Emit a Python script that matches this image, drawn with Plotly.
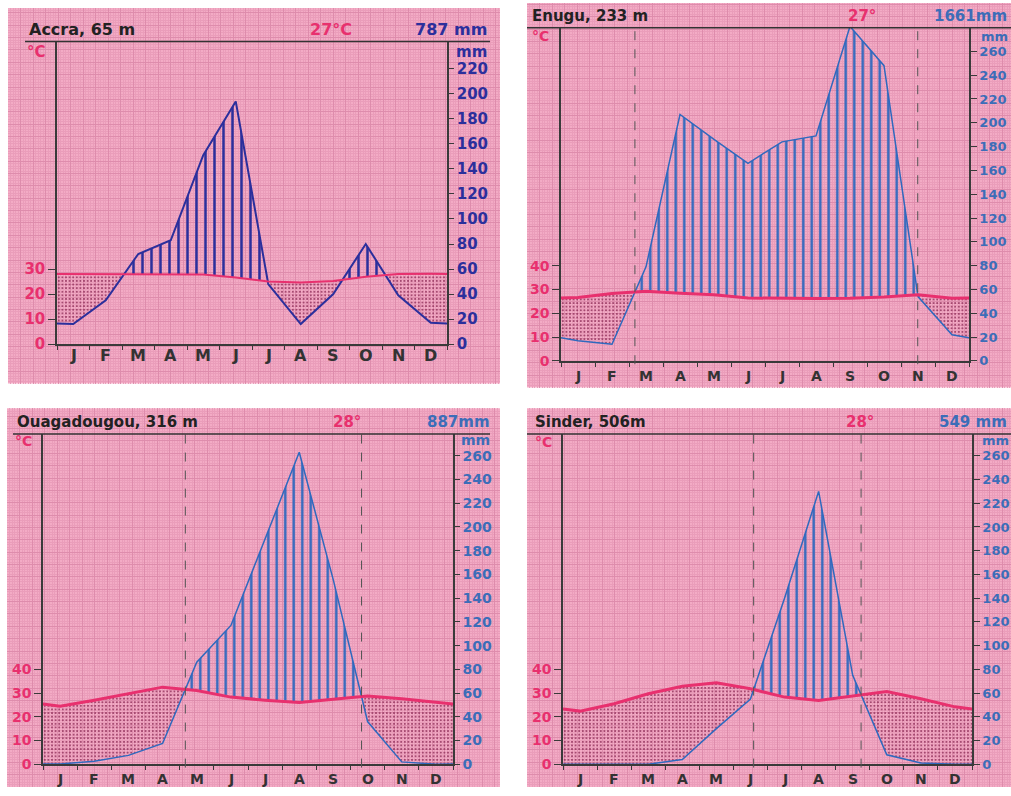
import plotly.graph_objects as go

W, H = 1011, 796

# ---------------- data ----------------
months = ["J", "F", "M", "A", "M", "J", "J", "A", "S", "O", "N", "D"]

accra_name = "Accra, 65 m"
accra_temp_label = "27°C"
accra_precip_label = "787 mm"
accra_temp = [28.0, 28.0, 28.1, 28.0, 27.8, 26.6, 25.0, 24.6, 25.2, 26.9, 28.0, 28.1]
accra_precip = [16, 35, 72, 83, 151, 194, 48, 16, 40, 80, 39, 17]

enugu_name = "Enugu, 233 m"
enugu_temp_label = "27°"
enugu_precip_label = "1661mm"
enugu_temp = [26.6, 28.3, 29.2, 28.4, 27.8, 26.4, 26.2, 26.2, 26.3, 26.8, 27.8, 26.3]
enugu_precip = [17, 14, 79, 207, 186, 166, 184, 189, 281, 248, 54, 22]

ouaga_name = "Ouagadougou, 316 m"
ouaga_temp_label = "28°"
ouaga_precip_label = "887mm"
ouaga_temp = [24.5, 27.0, 29.7, 32.5, 31.1, 28.3, 27.0, 26.0, 27.4, 28.8, 27.6, 26.3]
ouaga_precip = [0.3, 2.5, 7.5, 17.5, 86, 117, 190, 263, 155, 36, 2, 0]

sinder_name = "Sinder, 506m"
sinder_temp_label = "28°"
sinder_precip_label = "549 mm"
sinder_temp = [22.4, 25.5, 29.7, 32.9, 34.3, 31.8, 28.3, 26.9, 28.8, 30.7, 27.6, 24.2]
sinder_precip = [0, 0, 0, 4, 30, 55, 140, 230, 75, 8, 1, 0]

mm_ticks_accra = list(range(0, 221, 20))
mm_ticks_other = list(range(0, 261, 20))
c_ticks_accra = [0, 10, 20, 30]
c_ticks_other = [0, 10, 20, 30, 40]

# ---------------- styles / layout constants ----------------
PINK = "#F3ABC5"
GRID_MINOR = "#EA9DBA"
GRID_MAJOR = "#DE8CAC"
AX = "#3a3a3a"
MAGENTA = "#E8306E"
FONT = "DejaVu Sans"

panels = [
    dict(name=accra_name, tl=accra_temp_label, pl=accra_precip_label,
         temp=accra_temp, precip=accra_precip, mmt=mm_ticks_accra, ct=c_ticks_accra,
         box=(8, 8, 500, 388), left=57, right=447, top=42, zero=348, pxmm=1.265,
         title_x=27, title_y=30, tsize=16, tl_x=331, pl_x=489, pl_anchor="right",
         line_x=(25, 490), degc=(36, 53), mm=(471, 53), month_y=360, msize=16, ksize=15,
         rsize=15, rlen=5, mmsize=15,
         blue="#2B2F9C", tblue="#2B2F9C", hatch=9, twidth=2, pwidth=2, dashed=False),
    dict(name=enugu_name, tl=enugu_temp_label, pl=enugu_precip_label,
         temp=enugu_temp, precip=enugu_precip, mmt=mm_ticks_other, ct=c_ticks_other,
         box=(527, 3, 1011, 392), left=561, right=969, top=28, zero=365, pxmm=1.204,
         title_x=530, title_y=16, tsize=15, tl_x=862, pl_x=1009, pl_anchor="right",
         line_x=(527, 1011), degc=(540, 36), mm=(994, 37), month_y=380, msize=14, ksize=14,
         rsize=13, rlen=6, mmsize=13,
         blue="#2F69BE", tblue="#3C6DB8", hatch=8.5, twidth=3, pwidth=1.5, dashed=True),
    dict(name=ouaga_name, tl=ouaga_temp_label, pl=ouaga_precip_label,
         temp=ouaga_temp, precip=ouaga_precip, mmt=mm_ticks_other, ct=c_ticks_other,
         box=(7, 413, 500, 796), left=43, right=453, top=439, zero=773, pxmm=1.2,
         title_x=15, title_y=427, tsize=15, tl_x=347, pl_x=492, pl_anchor="right",
         line_x=(13, 490), degc=(23, 446), mm=(475, 445), month_y=788, msize=14, ksize=14,
         rsize=14, rlen=5, mmsize=14,
         blue="#2F69BE", tblue="#3C6DB8", hatch=8.5, twidth=3, pwidth=1.5, dashed=True),
    dict(name=sinder_name, tl=sinder_temp_label, pl=sinder_precip_label,
         temp=sinder_temp, precip=sinder_precip, mmt=mm_ticks_other, ct=c_ticks_other,
         box=(527, 413, 1011, 796), left=563, right=972, top=439, zero=773, pxmm=1.2,
         title_x=533, title_y=427, tsize=15, tl_x=860, pl_x=1009, pl_anchor="right",
         line_x=(527, 1011), degc=(543, 447), mm=(995, 446), month_y=788, msize=14, ksize=14,
         rsize=13, rlen=6, mmsize=13,
         blue="#2F69BE", tblue="#3C6DB8", hatch=8.5, twidth=3, pwidth=1.5, dashed=True),
]


def px2x(px):
    return min(1.0, max(0.0, px / W))


def px2y(py):
    return min(1.0, max(0.0, 1 - py / H))


def month_curve(vals):
    edge = (vals[0] + vals[-1]) / 2
    xs = [0.0] + [i + 0.5 for i in range(12)] + [12.0]
    return xs, [edge] + list(vals) + [edge]


def split_at_crossings(xs, a, b):
    X, A, B, cross = [xs[0]], [a[0]], [b[0]], []
    for i in range(1, len(xs)):
        d0 = a[i - 1] - b[i - 1]
        d1 = a[i] - b[i]
        if d0 * d1 < 0:
            f = d0 / (d0 - d1)
            xc = xs[i - 1] + f * (xs[i] - xs[i - 1])
            yc = a[i - 1] + f * (a[i] - a[i - 1])
            X.append(xc); A.append(yc); B.append(yc); cross.append(xc)
        X.append(xs[i]); A.append(a[i]); B.append(b[i])
    return X, A, B, cross


def sfx(n):
    return "" if n == 1 else str(n)


fig = go.Figure()
layout = {}
shapes = []
annotations = []

for i, p in enumerate(panels):
    k = i + 1      # background grid axes
    d = i + 5      # data axes (mm on right)
    t = i + 9      # temperature axis (°C on left)
    bx0, by0, bx1, by1 = p["box"]

    shapes.append(dict(type="rect", xref="paper", yref="paper",
                       x0=px2x(bx0), x1=px2x(bx1), y0=px2y(by1), y1=px2y(by0),
                       fillcolor=PINK, line_width=0, layer="below"))

    grid_common = dict(showgrid=True, gridcolor=GRID_MAJOR, gridwidth=1, tick0=0, dtick=12.5,
                       minor=dict(tick0=0, dtick=2.5, showgrid=True, gridcolor=GRID_MINOR, gridwidth=0.6),
                       showticklabels=False, ticks="", zeroline=False, showline=False, fixedrange=True)
    layout["xaxis" + sfx(k)] = dict(domain=[px2x(bx0), px2x(bx1)], range=[0, bx1 - bx0],
                                    anchor="y" + sfx(k), **grid_common)
    layout["yaxis" + sfx(k)] = dict(domain=[px2y(by1), px2y(by0)], range=[0, by1 - by0],
                                    anchor="x" + sfx(k), **grid_common)
    fig.add_trace(go.Scatter(x=[None], y=[None], xaxis="x" + sfx(k), yaxis="y" + sfx(k),
                             showlegend=False, hoverinfo="skip"))

    mm_top = (p["zero"] - p["top"]) / p["pxmm"]
    tickfont_mm = dict(family=FONT, size=p["rsize"], color=p["tblue"], weight="bold")
    tickfont_c = dict(family=FONT, size=p["ksize"], color=MAGENTA, weight="bold")

    layout["xaxis" + sfx(d)] = dict(domain=[px2x(p["left"]), px2x(p["right"])], range=[0, 12],
                                    anchor="y" + sfx(d), tickmode="linear", tick0=0, dtick=1,
                                    ticks="outside", ticklen=4, tickwidth=1, tickcolor=AX,
                                    showticklabels=False, showline=True, linecolor=AX, linewidth=1.5,
                                    showgrid=False, zeroline=False, fixedrange=True)
    layout["yaxis" + sfx(d)] = dict(domain=[px2y(p["zero"]), px2y(p["top"])], range=[0, mm_top],
                                    anchor="x" + sfx(d), side="right", tickmode="array",
                                    tickvals=p["mmt"], ticks="outside", ticklen=p["rlen"], tickwidth=1.2,
                                    tickcolor=AX, tickfont=tickfont_mm, showline=True, linecolor=AX,
                                    linewidth=1.5, showgrid=False, zeroline=False, fixedrange=True)
    layout["yaxis" + sfx(t)] = dict(overlaying="y" + sfx(d), anchor="x" + sfx(d), side="left",
                                    range=[0, mm_top / 2], tickmode="array", tickvals=p["ct"],
                                    ticks="outside", ticklen=7, tickwidth=1.2, tickcolor=AX,
                                    tickfont=tickfont_c, showline=True, linecolor=AX, linewidth=1.5,
                                    showgrid=False, zeroline=False, fixedrange=True)

    xs, P = month_curve(p["precip"])
    _, T = month_curve(p["temp"])
    T2 = [v * 2 for v in T]
    X, Pc, Tc, cross = split_at_crossings(xs, P, T2)
    upper = [max(a, b) for a, b in zip(Pc, Tc)]
    lower = [min(a, b) for a, b in zip(Pc, Tc)]
    xa, ya = "x" + sfx(d), "y" + sfx(d)

    # humid period: vertical hatching
    fig.add_trace(go.Scatter(x=X, y=Tc, xaxis=xa, yaxis=ya, mode="lines", line=dict(width=0),
                             showlegend=False, hoverinfo="skip"))
    fig.add_trace(go.Scatter(x=X, y=upper, xaxis=xa, yaxis=ya, mode="lines", line=dict(width=0),
                             fill="tonexty", fillcolor="rgba(0,0,0,0)",
                             fillpattern=dict(shape="|", size=p["hatch"], solidity=0.28,
                                              fgcolor=p["blue"], bgcolor="rgba(0,0,0,0)",
                                              fillmode="replace"),
                             showlegend=False, hoverinfo="skip"))
    # arid period: dots
    fig.add_trace(go.Scatter(x=X, y=lower, xaxis=xa, yaxis=ya, mode="lines", line=dict(width=0),
                             showlegend=False, hoverinfo="skip"))
    fig.add_trace(go.Scatter(x=X, y=Tc, xaxis=xa, yaxis=ya, mode="lines", line=dict(width=0),
                             fill="tonexty", fillcolor="rgba(0,0,0,0)",
                             fillpattern=dict(shape=".", size=3.6, solidity=0.2,
                                              fgcolor="#8E2B57", bgcolor="rgba(0,0,0,0)",
                                              fillmode="replace"),
                             showlegend=False, hoverinfo="skip"))
    # precipitation line
    fig.add_trace(go.Scatter(x=xs, y=P, xaxis=xa, yaxis=ya, mode="lines",
                             line=dict(color=p["blue"], width=p["pwidth"]),
                             showlegend=False, hoverinfo="skip"))
    # temperature line (°C axis)
    fig.add_trace(go.Scatter(x=xs, y=T, xaxis=xa, yaxis="y" + sfx(t), mode="lines",
                             line=dict(color=MAGENTA, width=p["twidth"]),
                             showlegend=False, hoverinfo="skip"))

    if p["dashed"]:
        for xc in cross:
            shapes.append(dict(type="line", xref=xa, yref=ya + " domain", x0=xc, x1=xc,
                               y0=-0.01, y1=1, line=dict(color="#555555", width=1, dash="dash")))

    # title line
    shapes.append(dict(type="line", xref="paper", yref="paper",
                       x0=px2x(p["line_x"][0]), x1=px2x(p["line_x"][1]),
                       y0=px2y(p["top"]), y1=px2y(p["top"]),
                       line=dict(color="#333333", width=1.5)))

    # header texts
    annotations.append(dict(text=p["name"], xref="paper", yref="paper", x=px2x(p["title_x"]),
                            y=px2y(p["title_y"]), xanchor="left", yanchor="middle", showarrow=False,
                            font=dict(family=FONT, size=p["tsize"], color="#222222", weight="bold")))
    annotations.append(dict(text=p["tl"], xref="paper", yref="paper", x=px2x(p["tl_x"]),
                            y=px2y(p["title_y"]), xanchor="center", yanchor="middle", showarrow=False,
                            font=dict(family=FONT, size=p["tsize"], color=MAGENTA, weight="bold")))
    annotations.append(dict(text=p["pl"], xref="paper", yref="paper", x=px2x(p["pl_x"]),
                            y=px2y(p["title_y"]), xanchor=p["pl_anchor"], yanchor="middle",
                            showarrow=False,
                            font=dict(family=FONT, size=p["tsize"], color=p["tblue"], weight="bold")))
    annotations.append(dict(text="°C", xref="paper", yref="paper", x=px2x(p["degc"][0]),
                            y=px2y(p["degc"][1]), xanchor="center", yanchor="middle", showarrow=False,
                            font=dict(family=FONT, size=p["ksize"], color=MAGENTA, weight="bold")))
    annotations.append(dict(text="mm", xref="paper", yref="paper", x=px2x(p["mm"][0]),
                            y=px2y(p["mm"][1]), xanchor="center", yanchor="middle", showarrow=False,
                            font=dict(family=FONT, size=p["mmsize"], color=p["tblue"], weight="bold")))
    for m, lab in enumerate(months):
        annotations.append(dict(text=lab, xref=xa, yref="paper", x=m + 0.5, y=px2y(p["month_y"]),
                                xanchor="center", yanchor="middle", showarrow=False,
                                font=dict(family=FONT, size=p["msize"], color="#333333", weight="bold")))

fig.update_layout(width=W, height=H, margin=dict(l=0, r=0, t=0, b=0),
                  paper_bgcolor="white", plot_bgcolor="rgba(0,0,0,0)",
                  showlegend=False, shapes=shapes, annotations=annotations,
                  font=dict(family=FONT), **layout)

# remove the browser's default page margin so the 1011x796 figure fills the window exactly
page_fix = ("document.documentElement.style.overflow='hidden';"
            "document.body.style.margin='0px';document.body.style.overflow='hidden';")
fig.write_html("out.html", post_script=page_fix, config={"displayModeBar": False})
